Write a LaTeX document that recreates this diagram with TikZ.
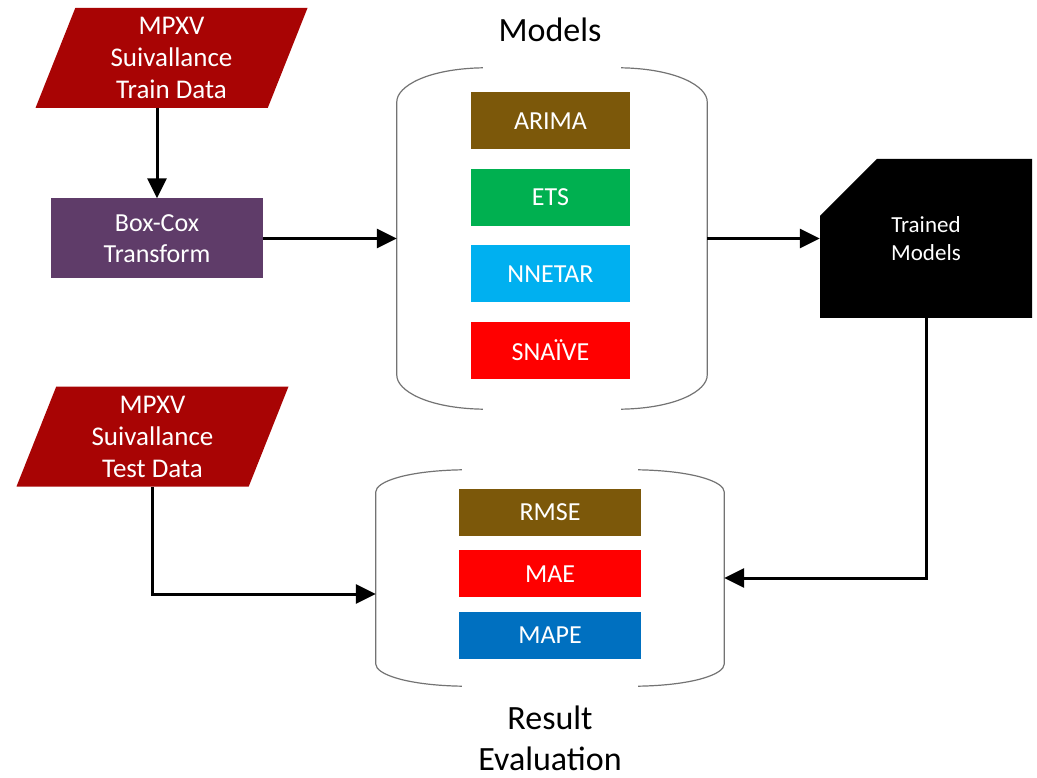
\documentclass[tikz,border=0pt]{standalone}
\usepackage{fontspec}
\setmainfont{Carlito}
\usetikzlibrary{positioning,arrows.meta,shapes.geometric,shapes.misc}
\definecolor{datared}{RGB}{168,4,4}
\definecolor{boxpurple}{RGB}{95,60,105}
\definecolor{arimabrown}{RGB}{124,88,10}
\definecolor{etsgreen}{RGB}{0,176,80}
\definecolor{nnetarblue}{RGB}{0,176,240}
\definecolor{mapeblue}{RGB}{0,112,192}
% open brackets round a holder node: name, arc width, arc height
\newcommand{\holderbrackets}[3]{%
  \draw[bracket] ([xshift=#2pt]#1.north west) .. controls +(-0.65*#2,1) and +(0,-0.45*#3) .. ([yshift=-#3pt]#1.north west)
    -- ([yshift=#3pt]#1.south west) .. controls +(0,0.45*#3) and +(-0.65*#2,-1) .. ([xshift=#2pt]#1.south west);
  \draw[bracket] ([xshift=-#2pt]#1.north east) .. controls +(0.65*#2,1) and +(0,-0.45*#3) .. ([yshift=-#3pt]#1.north east)
    -- ([yshift=#3pt]#1.south east) .. controls +(0,0.45*#3) and +(0.65*#2,-1) .. ([xshift=-#2pt]#1.south east);
}
\begin{document}
\begin{tikzpicture}[x=1pt,y=-1pt,
  databox/.style={trapezium, trapezium left angle=64, trapezium right angle=116, trapezium stretches body,
    fill=datared, text=white, align=center, inner sep=0pt, minimum width=272pt, minimum height=100pt,
    font=\fontsize{27}{32}\selectfont},
  procbox/.style={rectangle, fill=#1, text=white, align=center, inner sep=0pt, font=\fontsize{26}{31}\selectfont},
  modelbox/.style={procbox=#1, minimum width=159pt, minimum height=57pt},
  metricbox/.style={procbox=#1, minimum width=182pt, minimum height=47pt},
  holder/.style={rectangle, inner sep=0pt},
  bracket/.style={draw=black!55, line width=1.2pt},
  flow/.style={line width=3pt, -{Triangle[length=20pt,width=19pt]}},
  title/.style={font=\fontsize{34}{41}\selectfont, align=center}]
\useasboundingbox (0,0) rectangle (1037,778);

\node[databox] (train) at (171.5,58) {MPXV\\Suivallance\\Train Data};
\node[procbox=boxpurple, minimum width=212pt, minimum height=80pt] (boxcox) at (157,238.5) {Box-Cox\\Transform};
\node[databox] (test) at (152.5,436.5) {MPXV\\Suivallance\\Test Data};

\node[title] (modelstitle) at (550,30) {Models};
\node[holder, minimum width=310pt, minimum height=341pt] (models) at (552,238.5) {};
\node[modelbox=arimabrown] (arima) at (550.5,121) {ARIMA};
\node[modelbox=etsgreen, below=19pt of arima] (ets) {ETS};
\node[modelbox=nnetarblue, below=19pt of ets] (nnetar) {NNETAR};
\node[modelbox=red, below=19pt of nnetar] (snaive) {SNAÏVE};
\holderbrackets{models}{86}{34}

\node[chamfered rectangle, chamfered rectangle corners=north west, chamfered rectangle xsep=53pt,
  chamfered rectangle ysep=53pt, fill=black, text=white, align=center, inner sep=0pt,
  minimum width=212pt, minimum height=159pt, font=\fontsize{23}{28}\selectfont] (trained) at (926,238.5) {Trained\\Models};

\node[holder, minimum width=348pt, minimum height=216pt] (results) at (550,578) {};
\node[metricbox=arimabrown] (rmse) at (550,512.5) {RMSE};
\node[metricbox=red, below=14pt of rmse] (mae) {MAE};
\node[metricbox=mapeblue, below=14pt of mae] (mape) {MAPE};
\holderbrackets{results}{86}{22}
\node[title] (resultstitle) at (550,738) {Result\\Evaluation};

\draw[flow] (boxcox.north |- train.south) -- (boxcox.north);
\draw[flow] (boxcox.east) -- (models.west);
\draw[flow] (models.east) -- (trained.west);
\draw[flow] (trained.south) |- (results.east);
\draw[flow] (test.south) |- ([yshift=-16pt]results.west);
\end{tikzpicture}
\end{document}
